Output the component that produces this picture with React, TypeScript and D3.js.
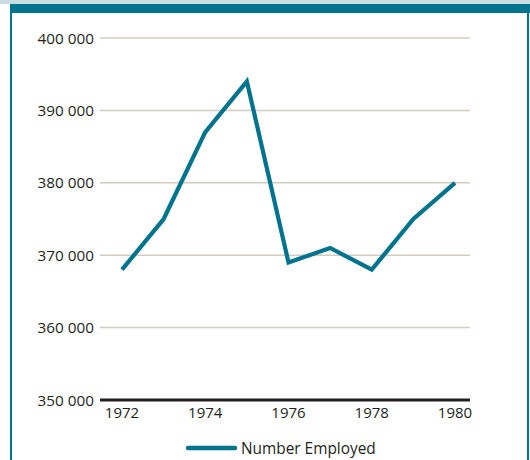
import React from "react";
import * as d3 from "d3";

const years = [1972, 1973, 1974, 1975, 1976, 1977, 1978, 1979, 1980];
const employed = [368000, 375000, 387000, 394000, 369000, 371000, 368000, 375000, 380000];
const yTicks = [350000, 360000, 370000, 380000, 390000, 400000];
const xTicks = [1972, 1974, 1976, 1978, 1980];
const seriesName = "Number Employed";

const W = 530;
const H = 460;
const TEAL = "#00748f";
const FONT = "'Open Sans', 'Noto Sans', sans-serif";

export default function App() {
  const x = d3.scaleLinear().domain([1972, 1980]).range([122, 455]);
  const y = d3.scaleLinear().domain([350000, 400000]).range([400, 38]);
  const gridX0 = 100;
  const gridX1 = 470;
  const data = years.map((yr, i) => ({ yr, v: employed[i] }));
  const line = d3
    .line<{ yr: number; v: number }>()
    .x((d) => x(d.yr))
    .y((d) => y(d.v));
  const fmt = (v: number) => d3.format(",")(v).replace(/,/g, " ");

  return (
    <svg
      width={W}
      height={H}
      style={{ position: "absolute", left: 0, top: 0, background: "#fff" }}
      fontFamily={FONT}
    >
      <rect x={0} y={0} width={W} height={4} fill="#c9dce2" />
      <rect x={10} y={4} width={W - 10} height={9} fill={TEAL} />
      <line x1={11} x2={11} y1={4} y2={H} stroke={TEAL} strokeWidth={2} />
      <line x1={528} x2={528} y1={4} y2={H} stroke={TEAL} strokeWidth={2} />
      {yTicks.map((t) =>
        t === 350000 ? null : (
          <line
            key={"g" + t}
            x1={gridX0}
            x2={gridX1}
            y1={y(t)}
            y2={y(t)}
            stroke="#d3cbbe"
            strokeWidth={1.5}
          />
        )
      )}
      <line x1={gridX0} x2={gridX1} y1={y(350000)} y2={y(350000)} stroke="#231f20" strokeWidth={3} />
      {yTicks.map((t) => (
        <text
          key={"yl" + t}
          x={94}
          y={y(t) + 5.5}
          textAnchor="end"
          fontSize={15.3}
          fill="#231f20"
        >
          {fmt(t)}
        </text>
      ))}
      {xTicks.map((t) => (
        <text key={"xl" + t} x={x(t)} y={418} textAnchor="middle" fontSize={15} fill="#231f20">
          {t}
        </text>
      ))}
      <path
        d={line(data) || ""}
        fill="none"
        stroke={TEAL}
        strokeWidth={4.2}
        strokeLinejoin="miter"
        strokeLinecap="butt"
      />
      <line x1={188} x2={235} y1={448} y2={448} stroke={TEAL} strokeWidth={4.5} strokeLinecap="round" />
      <text x={241} y={453.5} fontSize={15.4} fill="#231f20">
        {seriesName}
      </text>
    </svg>
  );
}
